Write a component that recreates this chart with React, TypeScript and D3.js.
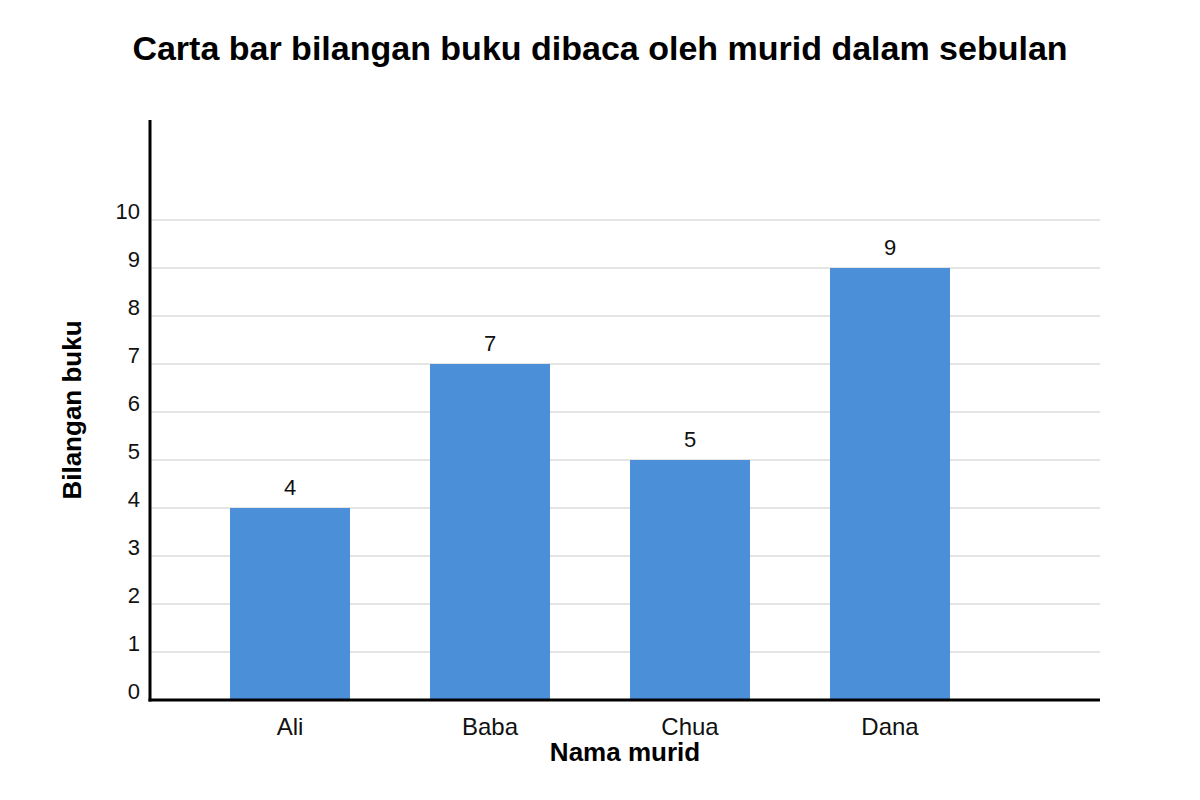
import * as d3 from 'd3';
import React from 'react';

const width = 1200;
const height = 800;
const margin = { top: 120, right: 100, bottom: 100, left: 150 };

const title = 'Carta bar bilangan buku dibaca oleh murid dalam sebulan';
const xTitle = 'Nama murid';
const yTitle = 'Bilangan buku';
const students = ['Ali', 'Baba', 'Chua', 'Dana'];
const books = [4, 7, 5, 9];
const yTicks = [0, 1, 2, 3, 4, 5, 6, 7, 8, 9, 10];

const font = '"Liberation Sans", Arial, sans-serif';

export default function App() {
  const x = d3
    .scaleBand<string>()
    .domain(students)
    .range([margin.left + 40, margin.left + 840])
    .paddingInner(0.4)
    .paddingOuter(0.2);

  const y = d3
    .scaleLinear()
    .domain([0, 10])
    .range([height - margin.bottom, height - margin.bottom - 480]);

  const x0 = margin.left;
  const x1 = width - margin.right;
  const y0 = height - margin.bottom;

  return (
    <svg width={width} height={height} style={{ display: 'block', margin: -8 }} fontFamily={font}>
      <rect width={width} height={height} fill="#fff" />
      <text x={600} y={60} textAnchor="middle" fontSize={34} fontWeight="bold">
        {title}
      </text>

      {/* grid */}
      {yTicks.slice(1).map(t => (
        <line key={t} x1={x0} x2={x1} y1={y(t)} y2={y(t)} stroke="#dcdcdc" strokeWidth={1.5} />
      ))}
      {yTicks.map(t => (
        <text key={t} x={140} y={y(t) - 1.5} textAnchor="end" fontSize={22} fill="#111">
          {t}
        </text>
      ))}

      {/* bars */}
      {students.map((s, i) => (
        <g key={s}>
          <rect x={x(s)} y={y(books[i])} width={x.bandwidth()} height={y0 - y(books[i])} fill="#4a8fd8" />
          <text x={x(s)! + x.bandwidth() / 2} y={y(books[i]) - 13} textAnchor="middle" fontSize={22} fill="#111">
            {books[i]}
          </text>
          <text x={x(s)! + x.bandwidth() / 2} y={735} textAnchor="middle" fontSize={24} fill="#111">
            {s}
          </text>
        </g>
      ))}

      {/* axes */}
      <line x1={x0} x2={x0} y1={margin.top} y2={y0 + 1.5} stroke="#000" strokeWidth={3} />
      <line x1={x0 - 1.5} x2={x1} y1={y0} y2={y0} stroke="#000" strokeWidth={3} />

      <text x={625} y={761} textAnchor="middle" fontSize={26} fontWeight="bold">
        {xTitle}
      </text>
      <text
        transform={`translate(81, ${410}) rotate(-90)`}
        textAnchor="middle"
        fontSize={26}
        fontWeight="bold"
      >
        {yTitle}
      </text>
    </svg>
  );
}
